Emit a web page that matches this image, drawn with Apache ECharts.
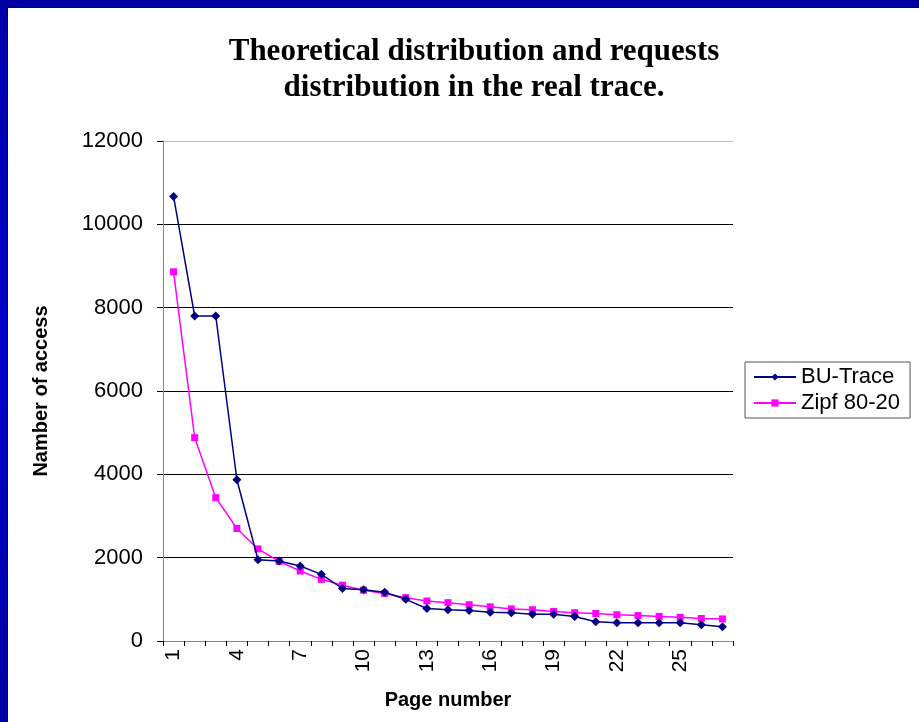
<!DOCTYPE html>
<html>
<head>
<meta charset="utf-8">
<script src="https://cdn.jsdelivr.net/npm/echarts@6/dist/echarts.min.js"></script>
<style>
  html, body { margin: 0; padding: 0; background: #fff; }
  #chart { width: 919px; height: 722px; }
</style>
</head>
<body>
<div id="chart"></div>
<script>
// page numbers 1..27
var pages = ['1','2','3','4','5','6','7','8','9','10','11','12','13','14','15','16','17','18','19','20','21','22','23','24','25','26','27'];

var buTrace = [10670, 7800, 7800, 3870, 1950, 1920, 1800, 1600, 1260, 1230, 1170, 1000, 780, 750,
               730, 690, 680, 640, 640, 590, 460, 440, 440, 440, 440, 390, 340];

var zipf8020 = [8860, 4880, 3440, 2700, 2210, 1910, 1680, 1480, 1340, 1220, 1140, 1040, 960, 920,
                870, 820, 770, 750, 710, 680, 660, 630, 610, 590, 570, 540, 530];

var yTicks = [0, 2000, 4000, 6000, 8000, 10000, 12000];

var chartDom = document.getElementById('chart');
var myChart = echarts.init(chartDom);

var option = {
    backgroundColor: '#ffffff',
    animation: false,
    title: {
        text: 'Theoretical distribution and requests\ndistribution in the real trace.',
        left: 469,
        top: 29,
        textAlign: 'center',
        textStyle: {
            fontFamily: 'Liberation Serif',
            fontWeight: 'bold',
            fontSize: 31,
            lineHeight: 36,
            color: '#000'
        }
    },
    graphic: [
        {
            type: 'rect',
            shape: { x: 0, y: 0, width: 7, height: 722 },
            style: {
                fill: new echarts.graphic.LinearGradient(0, 0, 0, 1, [
                    { offset: 0, color: '#0000a8' },
                    { offset: 0.5, color: '#0000cc' },
                    { offset: 1, color: '#0000a0' }
                ])
            }
        },
        {
            type: 'rect',
            shape: { x: 7, y: 0, width: 1, height: 722 },
            style: { fill: '#000030' }
        },
        {
            type: 'rect',
            shape: { x: 0, y: 0, width: 919, height: 7 },
            style: { fill: '#0000a0' }
        },
        {
            type: 'rect',
            shape: { x: 7, y: 7, width: 912, height: 1 },
            style: { fill: '#000030' }
        }
    ],
    legend: {
        orient: 'vertical',
        left: 745,
        top: 362,
        padding: [4, 10, 4, 8],
        itemGap: 4,
        itemWidth: 42,
        itemHeight: 9,
        borderColor: '#555',
        borderWidth: 1,
        borderRadius: 0,
        textStyle: {
            fontFamily: 'Liberation Sans',
            fontSize: 22,
            color: '#000'
        },
        data: ['BU-Trace', 'Zipf 80-20']
    },
    grid: {
        left: 163,
        right: 186,
        top: 141,
        bottom: 81,
        containLabel: false
    },
    xAxis: {
        type: 'category',
        data: pages,
        boundaryGap: true,
        name: 'Page number',
        nameLocation: 'middle',
        nameGap: 49,
        nameTextStyle: {
            fontFamily: 'Liberation Sans',
            fontWeight: 'bold',
            fontSize: 20,
            color: '#000'
        },
        axisLine: { show: true, lineStyle: { color: '#888', width: 1 } },
        axisTick: {
            show: true,
            interval: 0,
            length: 5,
            lineStyle: { color: '#000' }
        },
        axisLabel: {
            interval: 2,
            rotate: 90,
            margin: 8,
            fontFamily: 'Liberation Sans',
            fontSize: 21,
            color: '#000'
        },
        splitLine: { show: false }
    },
    yAxis: {
        type: 'value',
        min: yTicks[0],
        max: yTicks[yTicks.length - 1],
        interval: 2000,
        name: 'Namber of access',
        nameLocation: 'middle',
        nameRotate: 90,
        nameGap: 112,
        nameTextStyle: {
            fontFamily: 'Liberation Sans',
            fontWeight: 'bold',
            fontSize: 20,
            color: '#000'
        },
        axisLine: { show: true, lineStyle: { color: '#888', width: 1 } },
        axisTick: {
            show: true,
            length: 6,
            lineStyle: { color: '#000' }
        },
        axisLabel: {
            margin: 20,
            fontFamily: 'Liberation Sans',
            fontSize: 22,
            color: '#000',
            formatter: function (v) { return String(v); }
        },
        splitLine: {
            show: true,
            lineStyle: {
                color: ['#000', '#000', '#000', '#000', '#000', '#000', '#bdbdbd'],
                width: 1
            }
        }
    },
    series: [
        {
            name: 'BU-Trace',
            type: 'line',
            data: buTrace,
            symbol: 'diamond',
            symbolSize: 9,
            color: '#000080',
            lineStyle: { color: '#000080', width: 1.5 },
            itemStyle: { color: '#000080' },
            z: 3
        },
        {
            name: 'Zipf 80-20',
            type: 'line',
            data: zipf8020,
            symbol: 'rect',
            symbolSize: 7,
            color: '#ff00ff',
            lineStyle: { color: '#ff00ff', width: 1.5 },
            itemStyle: { color: '#ff00ff' },
            z: 2
        }
    ]
};

myChart.setOption(option);
</script>
</body>
</html>
